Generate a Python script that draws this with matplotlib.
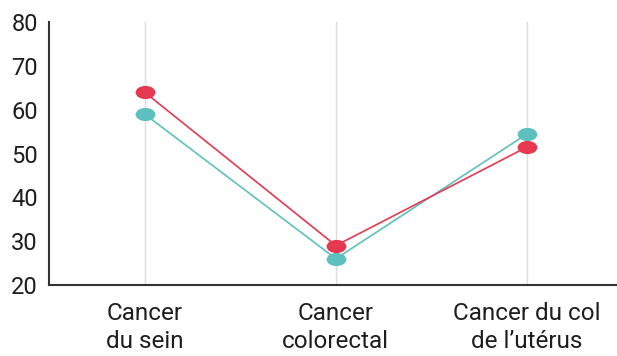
import numpy as np
import matplotlib
matplotlib.use('Agg')
import matplotlib.pyplot as plt
from matplotlib.markers import MarkerStyle
from matplotlib.transforms import Affine2D

categories = ['Cancer\ndu sein', 'Cancer\ncolorectal', 'Cancer du col\nde l\u2019utérus']
red_vals = [64, 29, 51.5]
teal_vals = [59, 26, 54.5]
yticks = [20, 30, 40, 50, 60, 70, 80]

plt.rcParams['font.family'] = ['Roboto', 'DejaVu Sans']

fig = plt.figure(figsize=(6.17, 3.56), dpi=100)
ax = fig.add_axes([0.0794, 0.1994, 0.9206, 0.7386])

x = np.arange(len(categories))
for xi in x:
    ax.axvline(xi, color='#dddddd', linewidth=1, zorder=0)

# wide elliptical markers
oval = MarkerStyle('o', transform=Affine2D().scale(1.5, 1.0))
ax.plot(x, teal_vals, color='#5ec0be', linewidth=1.2, marker=oval,
        markersize=9.5, markeredgewidth=0, zorder=3)
ax.plot(x, red_vals, color='#e63950', linewidth=1.2, marker=oval,
        markersize=9.5, markeredgewidth=0, zorder=3)

ax.set_xlim(-0.5, 2.47)
ax.set_ylim(20, 80)
ax.set_yticks(yticks)
ax.set_xticks(x)
ax.set_xticklabels(categories, fontsize=17.5, color='#1e1e1e', linespacing=1.3)
ax.tick_params(axis='y', labelsize=17, colors='#1e1e1e', length=0, pad=8)
ax.tick_params(axis='x', length=0, pad=12)

for s in ['top', 'right']:
    ax.spines[s].set_visible(False)
for s in ['left', 'bottom']:
    ax.spines[s].set_color('#333333')
    ax.spines[s].set_linewidth(1.5)

plt.savefig('out.png', dpi=100)
